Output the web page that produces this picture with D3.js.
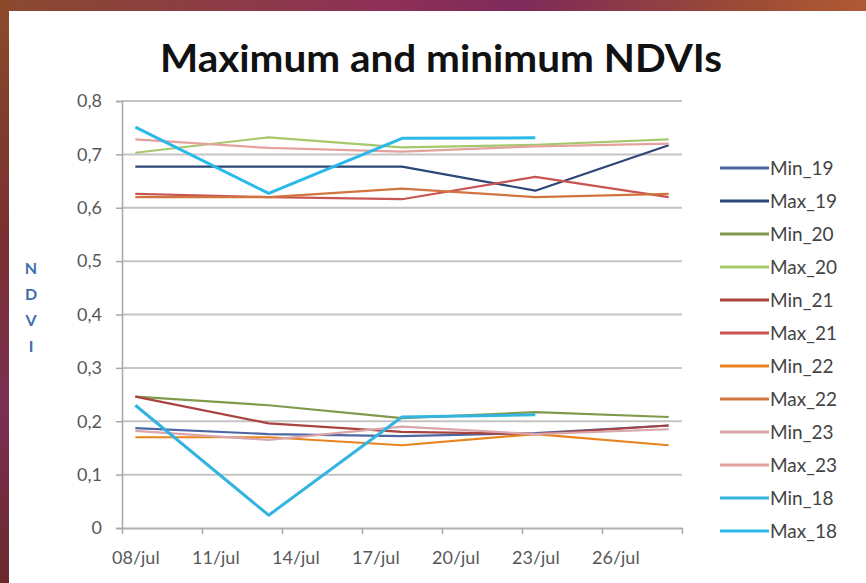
<!DOCTYPE html>
<html>
<head>
<meta charset="utf-8">
<script src="https://cdn.jsdelivr.net/npm/d3@7/dist/d3.min.js"></script>
<style>
  html, body { margin: 0; padding: 0; background: #fff; }
  svg { display: block; }
  text { font-family: Lato, "Open Sans", "DejaVu Sans", sans-serif; }
</style>
</head>
<body>
<svg id="chart" width="866" height="583"></svg>
<script>
// Sampling dates and axis tick labels
const dates = ["08/jul", "13/jul", "18/jul", "23/jul", "28/jul"];
const tickLabels = ["08/jul", "11/jul", "14/jul", "17/jul", "20/jul", "23/jul", "26/jul"];
const yTicks = [0, 0.1, 0.2, 0.3, 0.4, 0.5, 0.6, 0.7, 0.8];

// NDVI series, one value per sampling date (null = no observation)
const seriesNames = ["Min_19", "Max_19", "Min_20", "Max_20", "Min_21", "Max_21",
                     "Min_22", "Max_22", "Min_23", "Max_23", "Min_18", "Max_18"];
const min19 = [0.187, 0.176, 0.172, 0.178, 0.192];
const max19 = [0.677, 0.677, 0.677, 0.632, 0.717];
const min20 = [0.246, 0.230, 0.206, 0.217, 0.208];
const max20 = [0.703, 0.732, 0.713, 0.718, 0.728];
const min21 = [0.246, 0.196, 0.180, 0.176, 0.192];
const max21 = [0.626, 0.620, 0.616, 0.658, 0.620];
const min22 = [0.170, 0.170, 0.155, 0.176, 0.155];
const max22 = [0.620, 0.620, 0.636, 0.620, 0.626];
const min23 = [0.182, 0.165, 0.190, 0.176, 0.185];
const max23 = [0.728, 0.712, 0.705, 0.715, 0.720];
const min18 = [0.230, 0.024, 0.208, 0.212, null];
const max18 = [0.751, 0.627, 0.730, 0.731, null];
const seriesValues = [min19, max19, min20, max20, min21, max21,
                      min22, max22, min23, max23, min18, max18];
const seriesColors = ["#4d67a3", "#2b4677", "#7f9a4c", "#a6c86c", "#a9433f", "#c85552",
                      "#e8841f", "#d2743f", "#d8a6ab", "#e3a29d", "#33b3df", "#2bb8ea"];

const svg = d3.select("#chart");
const W = 866, H = 583;

// Backdrop behind the white chart panel
const defs = svg.append("defs");
const gTop = defs.append("linearGradient").attr("id", "edgeTop");
[["0%", "#8a4a2e"], ["45%", "#8e3058"], ["60%", "#7e2a5a"], ["85%", "#9a4a36"], ["100%", "#b05a34"]]
  .forEach(([o, c]) => gTop.append("stop").attr("offset", o).attr("stop-color", c));
const gLeft = defs.append("linearGradient").attr("id", "edgeLeft")
  .attr("x1", 0).attr("y1", 0).attr("x2", 0).attr("y2", 1);
[["0%", "#8c4a2a"], ["40%", "#7a3030"], ["70%", "#7c2e52"], ["100%", "#6a2a2c"]]
  .forEach(([o, c]) => gLeft.append("stop").attr("offset", o).attr("stop-color", c));
svg.append("rect").attr("x", 0).attr("y", 0).attr("width", W).attr("height", 11).attr("fill", "url(#edgeTop)");
svg.append("rect").attr("x", 0).attr("y", 0).attr("width", 9).attr("height", H).attr("fill", "url(#edgeLeft)");
svg.append("rect").attr("x", 9).attr("y", 11).attr("width", W - 9).attr("height", H - 11).attr("fill", "#ffffff");

// Plot area
const plot = { left: 122, right: 682, top: 101, bottom: 528 };
const dayOf = s => +s.split("/")[0];
const x = d3.scaleLinear().domain([8, 29]).range([plot.left, plot.right]);
const y = d3.scaleLinear().domain([0, 0.8]).range([plot.bottom, plot.top]);
const xc = s => x(dayOf(s) + 0.5);   // each day occupies one slot; points sit at its centre

// Title
svg.append("text")
  .attr("x", 441).attr("y", 72)
  .attr("text-anchor", "middle")
  .attr("font-weight", 700)
  .attr("font-size", 38)
  .attr("textLength", 562)
  .attr("lengthAdjust", "spacingAndGlyphs")
  .attr("fill", "#111")
  .text("Maximum and minimum NDVIs");

// Horizontal gridlines
svg.append("g")
  .selectAll("line").data(yTicks.filter(v => v > 0)).join("line")
  .attr("x1", plot.left).attr("x2", plot.right)
  .attr("y1", d => y(d)).attr("y2", d => y(d))
  .attr("stroke", "#c4c4c4").attr("stroke-width", 2);

// Y axis
const yAxis = svg.append("g")
  .attr("transform", `translate(${plot.left},0)`)
  .call(d3.axisLeft(y).tickValues(yTicks).tickSize(6).tickPadding(14)
    .tickFormat(d => d === 0 ? "0" : d3.format(".1f")(d).replace(".", ",")));
yAxis.select(".domain").attr("stroke", "#a8a8a8").attr("stroke-width", 1.5);
yAxis.selectAll(".tick line").attr("stroke", "#a8a8a8").attr("stroke-width", 1.5);
yAxis.selectAll(".tick text").attr("font-size", 18).attr("fill", "#585858");

// X axis: ticks on slot boundaries every three days, labels centred in the slot
const xAxis = svg.append("g")
  .attr("transform", `translate(0,${plot.bottom})`)
  .call(d3.axisBottom(x).tickValues([8, 11, 14, 17, 20, 23, 26, 29]).tickSize(6).tickSizeOuter(0)
    .tickFormat(d => { const l = tickLabels.find(t => dayOf(t) === d); return l || ""; }));
xAxis.select(".domain").attr("stroke", "#b0b0b0").attr("stroke-width", 2);
xAxis.selectAll(".tick line").attr("stroke", "#a8a8a8").attr("stroke-width", 1.5);
xAxis.selectAll(".tick text")
  .attr("dx", x(8.5) - x(8))
  .attr("y", 23)
  .attr("font-size", 18).attr("fill", "#585858");

// Y axis title, letters stacked
svg.append("g").selectAll("text").data("NDVI".split("")).join("text")
  .attr("x", 31).attr("y", (d, i) => 274 + i * 26)
  .attr("text-anchor", "middle")
  .attr("font-size", 16).attr("font-weight", 700)
  .attr("fill", "#3d6fae")
  .text(d => d);

// Series lines
const line = d3.line()
  .defined(d => d.v != null)
  .x(d => xc(d.date))
  .y(d => y(d.v));
const series = seriesNames.map((name, i) => ({
  name,
  color: seriesColors[i],
  width: name.endsWith("18") ? 3 : 2.2,
  points: dates.map((dt, j) => ({ date: dt, v: seriesValues[i][j] }))
    .filter(p => p.v != null)
}));
svg.append("g").selectAll("path").data(series).join("path")
  .attr("d", d => line(d.points))
  .attr("fill", "none")
  .attr("stroke", d => d.color)
  .attr("stroke-width", d => d.width)
  .attr("stroke-linejoin", "round");

// Legend
const leg = svg.append("g").selectAll("g").data(series).join("g")
  .attr("transform", (d, i) => `translate(720,${168 + i * 33})`);
leg.append("line")
  .attr("x1", 0).attr("x2", 49).attr("y1", 0).attr("y2", 0)
  .attr("stroke", d => d.color).attr("stroke-width", 3);
leg.append("text")
  .attr("x", 50).attr("y", 0).attr("dy", "0.35em")
  .attr("font-size", 19).attr("fill", "#444")
  .text(d => d.name);
</script>
</body>
</html>
